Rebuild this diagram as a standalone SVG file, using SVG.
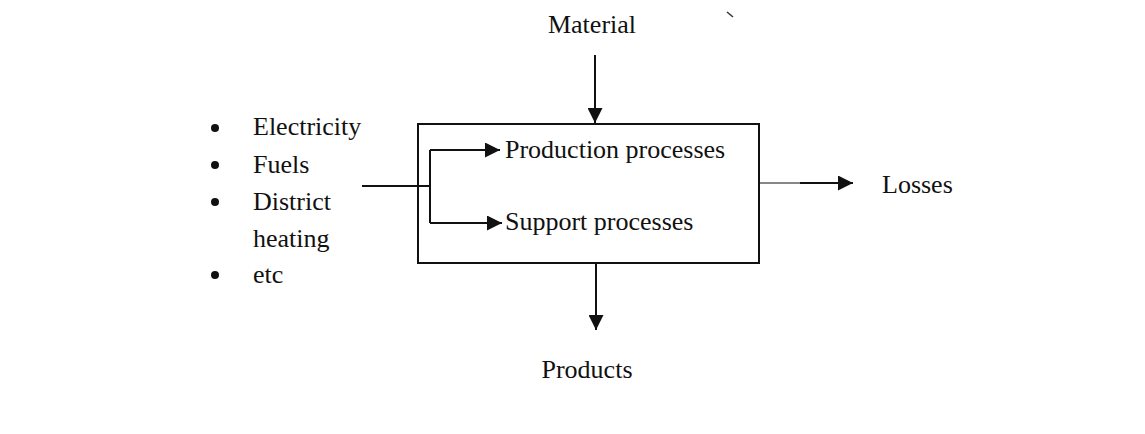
<svg xmlns="http://www.w3.org/2000/svg" width="1145" height="434" viewBox="0 0 1145 434">
<defs>
<style>
.t{font-family:"Liberation Serif","Times New Roman",serif;font-size:26px;fill:#111}
.ln{stroke:#111;stroke-width:2;fill:none}
</style>
<marker id="ah" viewBox="0 0 10 10" refX="10" refY="5" markerWidth="15" markerHeight="15" markerUnits="userSpaceOnUse" orient="auto">
<path d="M0,0 L10,5 L0,10 Z" fill="#111"/>
</marker>
</defs>
<rect width="1145" height="434" fill="#fff"/>
<path d="M727,12 L733,17" stroke="#333" stroke-width="1.5"/>
<g id="inputs">
<circle cx="215" cy="128" r="4" fill="#111"/>
<circle cx="215" cy="165" r="4" fill="#111"/>
<circle cx="215" cy="202" r="4" fill="#111"/>
<circle cx="215" cy="275" r="4" fill="#111"/>
<text class="t" x="253" y="135">Electricity</text>
<text class="t" x="253" y="173">Fuels</text>
<text class="t" x="253" y="210">District</text>
<text class="t" x="253" y="247">heating</text>
<text class="t" x="253" y="283">etc</text>
</g>
<g id="material"><text class="t" x="592" y="33" text-anchor="middle">Material</text></g>
<g id="process">
<rect x="418" y="124" width="341" height="139" class="ln"/>
<text class="t" x="505" y="158">Production processes</text>
<text class="t" x="505" y="230">Support processes</text>
</g>
<g id="losses"><text class="t" x="882" y="193">Losses</text></g>
<g id="products"><text class="t" x="587" y="378" text-anchor="middle">Products</text></g>
<g id="connectors">
<line x1="595" y1="55" x2="595" y2="123" class="ln" marker-end="url(#ah)"/>
<path d="M362,186 H430 M430,150 V223" class="ln"/>
<line x1="430" y1="150" x2="500" y2="150" class="ln" marker-end="url(#ah)"/>
<line x1="430" y1="223" x2="502" y2="223" class="ln" marker-end="url(#ah)"/>
<line x1="759" y1="183" x2="800" y2="183" stroke="#111" stroke-width="1"/>
<line x1="800" y1="183" x2="853" y2="183" class="ln" marker-end="url(#ah)"/>
<line x1="596" y1="263" x2="596" y2="330" class="ln" marker-end="url(#ah)"/>
</g>
</svg>
